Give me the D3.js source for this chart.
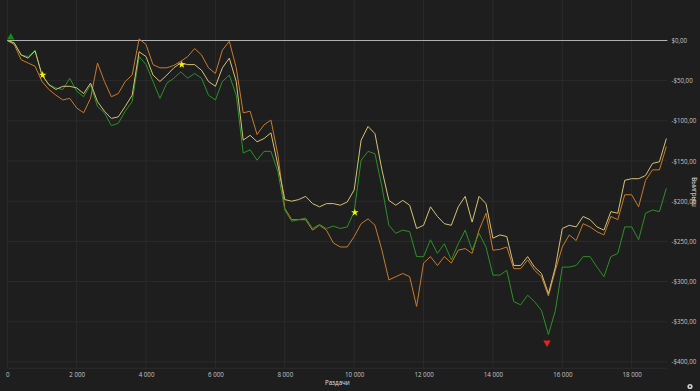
<!DOCTYPE html>
<html>
<head>
<meta charset="utf-8">
<script src="https://cdn.jsdelivr.net/npm/d3@7"></script>
<style>
  html, body { margin: 0; padding: 0; background: #1e1e1e; }
  svg { display: block; }
</style>
</head>
<body>
<svg id="chart"></svg>
<script>
// hands played, one sample every 200 hands
const hands = d3.range(0, 19001, 200)

const orangeWins = [
  0, -5, -24, -28, -32, -51, -61, -68, -74, -72, -84, -90, -72, -28, -51, -70, -66, -51, -43, 2, -5, -30, -34, -34,
  -31, -26, -20, -10, -18, -34, -41, -12, -1, -34, -90, -88, -117, -105, -99, -142, -209, -223, -223, -223, -236, -230, -236, -252,
  -257, -257, -244, -228, -222, -230, -261, -298, -294, -290, -294, -331, -277, -269, -280, -269, -277, -261, -259, -265, -236, -215, -261, -260,
  -257, -284, -284, -273, -286, -294, -318, -286, -257, -242, -249, -228, -232, -238, -242, -219, -223, -192, -192, -207, -174, -161, -161, -132
]
const yellowWins = [
  0, -3, -18, -22, -13, -43, -55, -61, -57, -57, -59, -66, -53, -76, -88, -97, -95, -82, -68, -14, -20, -43, -51, -43,
  -34, -28, -30, -30, -37, -51, -57, -34, -22, -51, -124, -118, -126, -122, -115, -155, -198, -200, -198, -194, -203, -207, -203, -203,
  -205, -201, -186, -124, -107, -116, -161, -199, -205, -199, -205, -234, -230, -207, -219, -228, -230, -207, -194, -226, -194, -203, -246, -242,
  -244, -280, -280, -269, -282, -290, -315, -282, -234, -230, -232, -219, -223, -232, -236, -213, -215, -174, -172, -172, -168, -153, -151, -122
]
const greenWins = [
  0, -3, -18, -20, -12, -43, -55, -59, -61, -47, -63, -70, -55, -82, -90, -106, -103, -88, -76, -20, -30, -51, -72, -53,
  -47, -39, -47, -41, -47, -68, -74, -51, -43, -68, -140, -136, -149, -138, -138, -163, -211, -225, -223, -221, -234, -229, -234, -231,
  -234, -232, -213, -149, -138, -141, -182, -230, -240, -236, -238, -269, -269, -248, -265, -253, -273, -253, -236, -261, -240, -257, -292, -292,
  -286, -325, -329, -317, -325, -336, -366, -336, -282, -282, -280, -269, -269, -282, -294, -269, -265, -232, -232, -248, -215, -211, -213, -184
]

const seriesNames = ['orange', 'green', 'yellow']
const seriesColors = { orange: '#c97a2c', green: '#2b9127', yellow: '#d4c274' }
const seriesValues = { orange: orangeWins, green: greenWins, yellow: yellowWins }

// event markers: [hands, value, kind]
const markers = [
  [100, 4, 'start'],
  [1020, -43, 'star'],
  [5030, -30, 'star'],
  [10020, -214, 'star'],
  [15560, -376, 'low']
]

const xTicks = d3.range(0, 18001, 2000)
const yTicks = d3.range(0, -401, -50)

const W = 700, H = 391
const plot = { left: 7.3, right: 667.4, top: 14, bottom: 368.3 }

const svg = d3.select('#chart').attr('width', W).attr('height', H)
svg.append('rect').attr('width', W).attr('height', H).attr('fill', '#1e1e1e')

const x = d3.scaleLinear().domain([0, 19030]).range([plot.left, plot.right])
const y = d3.scaleLinear().domain([33, -408]).range([plot.top, plot.bottom])

// grid
const grid = svg.append('g')
grid.selectAll('.vg').data(xTicks).join('line')
  .attr('x1', d => x(d)).attr('x2', d => x(d))
  .attr('y1', 0).attr('y2', plot.bottom)
  .attr('stroke', '#2b2b2b').attr('stroke-width', 1)
grid.selectAll('.hg').data(yTicks.filter(d => d !== 0)).join('line')
  .attr('x1', plot.left).attr('x2', plot.right)
  .attr('y1', d => y(d)).attr('y2', d => y(d))
  .attr('stroke', '#2b2b2b').attr('stroke-width', 1)
grid.append('line')
  .attr('x1', plot.left).attr('x2', plot.right)
  .attr('y1', plot.bottom).attr('y2', plot.bottom)
  .attr('stroke', '#2b2b2b')
grid.append('line')
  .attr('x1', plot.left).attr('x2', plot.right)
  .attr('y1', y(0)).attr('y2', y(0))
  .attr('stroke', '#b0b0b0').attr('stroke-width', 1)

// axes
const fmtX = v => d3.format(',')(v).replace(/,/g, ' ')
const fmtY = v => (v < 0 ? '-' : '') + '$' + Math.abs(v).toFixed(2).replace('.', ',')

const xAxis = svg.append('g')
  .attr('transform', `translate(0,${plot.bottom})`)
  .call(d3.axisBottom(x).tickValues(xTicks).tickFormat(fmtX).tickSize(0).tickPadding(4))
const yAxis = svg.append('g')
  .attr('transform', `translate(${plot.right},0)`)
  .call(d3.axisRight(y).tickValues(yTicks).tickFormat(fmtY).tickSize(0).tickPadding(4))
for (let ax of [xAxis, yAxis]) {
  ax.select('.domain').remove()
  ax.selectAll('text')
    .attr('fill', '#c4c4c4')
    .style('font-family', '"Open Sans", "DejaVu Sans", sans-serif')
    .style('font-size', '6.2px')
}

svg.append('text')
  .attr('x', (plot.left + plot.right) / 2).attr('y', 385)
  .attr('text-anchor', 'middle')
  .attr('fill', '#e0e0e0')
  .style('font-family', '"Open Sans", "DejaVu Sans", sans-serif')
  .style('font-size', '6.2px')
  .text('Раздачи')
svg.append('text')
  .attr('transform', 'translate(692,192) rotate(90)')
  .attr('text-anchor', 'middle')
  .attr('fill', '#e0e0e0')
  .style('font-family', '"Open Sans", "DejaVu Sans", sans-serif')
  .style('font-size', '6.2px')
  .text('Выигрыш')

// lines
const line = d3.line()
  .x((d, i) => x(hands[i]))
  .y(d => y(d))
for (let name of seriesNames) {
  svg.append('path')
    .datum(seriesValues[name])
    .attr('fill', 'none')
    .attr('stroke', seriesColors[name])
    .attr('stroke-width', 1)
    .attr('stroke-linejoin', 'round')
    .attr('d', line)
}

// markers
const markerStyle = {
  start: { type: d3.symbolTriangle, size: 24, color: '#138a13', rot: 0 },
  star: { type: d3.symbolStar, size: 18, color: '#f2f20a', rot: 0 },
  low: { type: d3.symbolTriangle, size: 24, color: '#e8221c', rot: 180 }
}
svg.selectAll('.marker').data(markers).join('path')
  .attr('transform', d => `translate(${x(d[0])},${y(d[1])}) rotate(${markerStyle[d[2]].rot})`)
  .attr('d', d => d3.symbol().type(markerStyle[d[2]].type).size(markerStyle[d[2]].size)())
  .attr('fill', d => markerStyle[d[2]].color)

// small settings icon, bottom right
svg.append('circle').attr('cx', 690).attr('cy', 386.5).attr('r', 2.6).attr('fill', '#d0d0d0')
svg.append('circle').attr('cx', 690).attr('cy', 386.5).attr('r', 1).attr('fill', '#1e1e1e')
</script>
</body>
</html>
